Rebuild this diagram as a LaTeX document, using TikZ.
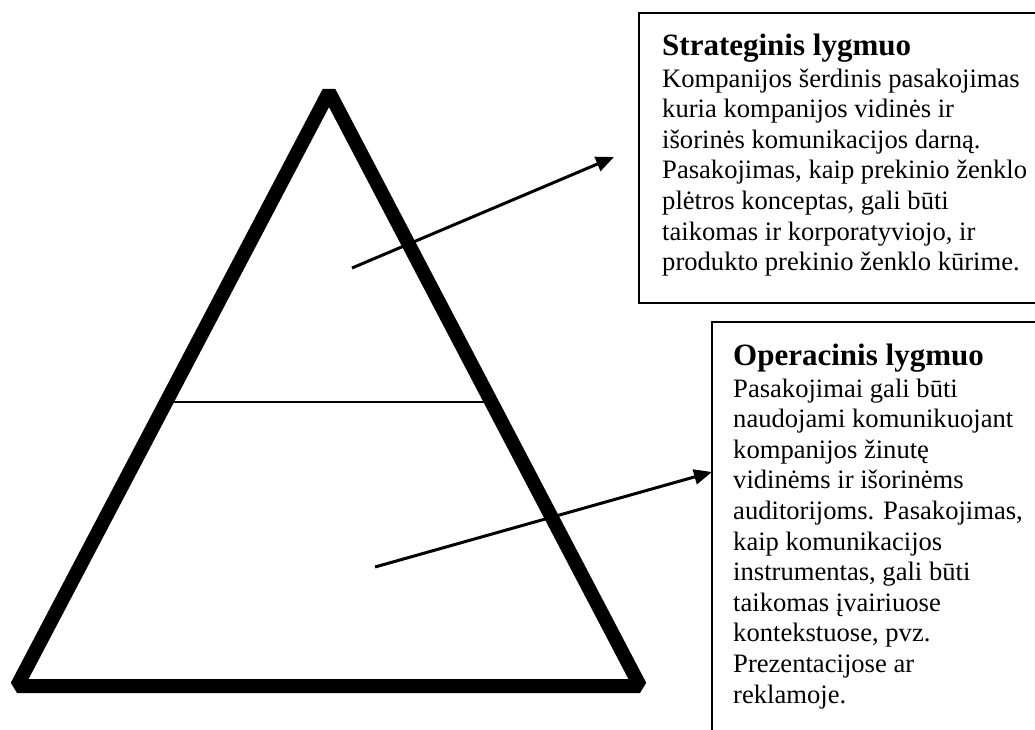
\documentclass[tikz,border=0pt]{standalone}
\usepackage{fontspec}
\setmainfont{Liberation Serif}
\usetikzlibrary{arrows.meta,calc}
\begin{document}
\begin{tikzpicture}[x=1pt,y=-1pt,
  body/.style={anchor=base west,inner sep=0pt,font=\fontsize{26.6}{30.6}\selectfont},
  ttl/.style={anchor=base west,inner sep=0pt,font=\fontsize{31}{36}\selectfont\bfseries},
  box/.style={draw,line width=2pt},
  tri/.style={line width=14pt,line join=bevel},
  mid/.style={line width=2pt},
  conn/.style={line width=3pt,-{Triangle[length=18pt,width=15pt]}}]
\useasboundingbox (0,0) rectangle (1035,729);
\clip (0,0) rectangle (1035,729);
% triangle
\coordinate (apex) at (329,92);
\coordinate (bl) at (17,686);
\coordinate (br) at (640,686);
\draw[tri] (apex) -- (br) -- (bl) -- cycle;
\coordinate (ml) at ($(bl)!0.478!(apex)$);
\coordinate (mr) at ($(br)!0.478!(apex)$);
\draw[mid] (ml) -- (mr);
% boxes
\draw[box] (639,13) rectangle (1050,303);
\draw[box] (712,322) rectangle (1050,745);
\coordinate (b2edge) at (712,472);
% box 1 text
\node[ttl]  (t1)  at (662,55) {Strateginis lygmuo};
\node[body] (a1)  at (662,87) {Kompanijos šerdinis pasakojimas};
\node[body] (a2)  at (662,117.6) {kuria kompanijos vidinės ir};
\node[body] (a3)  at (662,148.2) {išorinės komunikacijos darną.};
\node[body] (a4)  at (662,178.8) {Pasakojimas, kaip prekinio ženklo};
\node[body] (a5)  at (662,209.4) {plėtros konceptas, gali būti};
\node[body] (a6)  at (662,240) {taikomas ir korporatyviojo, ir};
\node[body] (a7)  at (662,270.6) {produkto prekinio ženklo kūrime.};
% box 2 text
\node[ttl]  (t2)  at (733,365) {Operacinis lygmuo};
\node[body] (c1)  at (733,397) {Pasakojimai gali būti};
\node[body] (c2)  at (733,427.6) {naudojami komunikuojant};
\node[body] (c3)  at (733,458.2) {kompanijos žinutę};
\node[body] (c4)  at (733,488.8) {vidinėms ir išorinėms};
\node[body] (c5)  at (733,519.4) {auditorijoms. Pasakojimas,};
\node[body] (c6)  at (733,550) {kaip komunikacijos};
\node[body] (c7)  at (733,580.6) {instrumentas, gali būti};
\node[body] (c8)  at (733,611.2) {taikomas įvairiuose};
\node[body] (c9)  at (733,641.8) {kontekstuose, pvz.};
\node[body] (c10) at (733,672.4) {Prezentacijose ar};
\node[body] (c11) at (733,703) {reklamoje.};
% arrows
\coordinate (s1) at (352,268);
\coordinate (e1) at (614,157);
\coordinate (s2) at (375,567);
\draw[conn] (s1) -- (e1);
\draw[conn] (s2) -- (b2edge);
\end{tikzpicture}
\end{document}
